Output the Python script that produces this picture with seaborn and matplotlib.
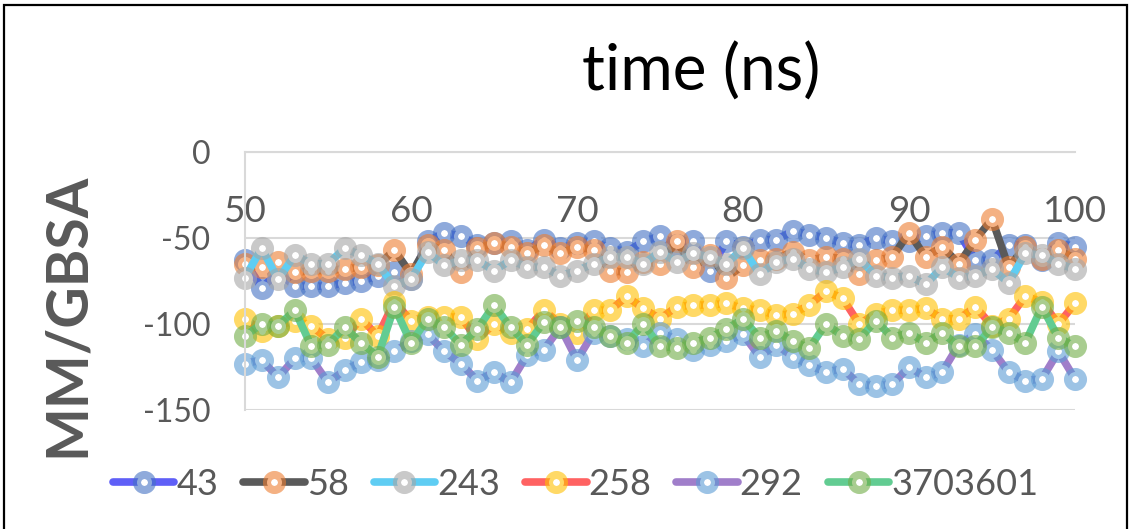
import numpy as np
import pandas as pd
import matplotlib
matplotlib.use("Agg")
import matplotlib.pyplot as plt
from matplotlib.patches import Rectangle
import seaborn as sns

# Simulation time (ns)
time_ns = list(range(50, 101))

# MM/GBSA binding energies per ligand
s43 = [-63, -79, -70, -78, -78, -78, -76, -75, -72, -70,
       -74, -52, -47, -49, -54, -53, -52, -57, -51, -56,
       -53, -52, -56, -58, -52, -49, -54, -52, -69, -52,
       -55, -51, -51, -46, -48, -50, -53, -54, -50, -52,
       -52, -49, -47, -47, -63, -63, -54, -54, -63, -53, -55]
s58 = [-65, -67, -64, -70, -69, -69, -68, -67, -66, -57,
       -71, -54, -57, -70, -56, -53, -55, -59, -54, -59,
       -55, -57, -69, -70, -64, -65, -52, -67, -60, -73,
       -66, -63, -62, -58, -63, -61, -62, -71, -63, -61,
       -47, -61, -55, -65, -51, -39, -67, -55, -62, -57, -62]
s243 = [-73, -56, -74, -60, -65, -65, -56, -60, -65, -78,
        -74, -58, -66, -63, -63, -69, -63, -67, -67, -72,
        -69, -65, -61, -61, -65, -58, -64, -59, -61, -65,
        -56, -71, -64, -62, -68, -70, -67, -62, -72, -73,
        -72, -77, -67, -73, -72, -68, -76, -59, -60, -65, -68]
s258 = [-97, -104, -101, -98, -101, -109, -108, -97, -107, -87,
        -98, -96, -96, -96, -109, -100, -105, -103, -92, -100,
        -105, -92, -92, -84, -91, -97, -90, -89, -89, -88,
        -91, -92, -95, -94, -89, -81, -85, -100, -94, -92,
        -92, -91, -97, -97, -90, -101, -97, -84, -87, -100, -88]
s292 = [-123, -121, -131, -120, -120, -134, -127, -122, -121, -116,
        -110, -106, -116, -123, -133, -128, -134, -118, -115, -102,
        -121, -105, -107, -109, -113, -105, -109, -115, -112, -110,
        -106, -119, -112, -119, -124, -128, -126, -135, -136, -135,
        -125, -131, -128, -112, -106, -115, -128, -133, -132, -116, -132]
s3703601 = [-107, -100, -101, -92, -113, -112, -102, -111, -119, -90,
            -111, -97, -102, -112, -103, -89, -102, -112, -99, -102,
            -98, -102, -107, -111, -100, -113, -114, -111, -108, -103,
            -97, -108, -104, -110, -114, -100, -107, -109, -98, -108,
            -105, -111, -105, -113, -113, -102, -105, -111, -90, -108, -113]

series_names = ["43", "58", "243", "258", "292", "3703601"]
series_values = [s43, s58, s243, s258, s292, s3703601]

x_ticks = [50, 60, 70, 80, 90, 100]
y_ticks = [0, -50, -100, -150]

# line colour / marker ring colour for each ligand
line_colors = ["#5F5FF7", "#5A5A5A", "#5FCDF3", "#FF6262", "#A07ECA", "#62CC92"]
ring_colors = ["#4472C4", "#ED7D31", "#A5A5A5", "#FFC000", "#5B9BD5", "#70AD47"]

sns.set_theme(style="white")
plt.rcParams["font.family"] = ["Lato", "DejaVu Sans"]

fig = plt.figure(figsize=(11.31, 5.29), dpi=100)
ax = fig.add_axes([0.2166, 0.225, 0.7339, 0.4877])

for name, vals, lc, rc in zip(series_names, series_values, line_colors, ring_colors):
    df = pd.DataFrame({"time": time_ns, "energy": vals})
    ring = matplotlib.colors.to_rgba(rc, 0.6)
    sns.lineplot(data=df, x="time", y="energy", ax=ax, color=lc,
                 linewidth=5.5, marker="o", markersize=10.8,
                 markeredgewidth=5.8, markeredgecolor=ring,
                 markerfacecolor="white", label=name, clip_on=False)

ax.set_xlim(50, 100)
ax.set_ylim(-150, 0)
ax.set_xticks(x_ticks)
ax.set_yticks(y_ticks)
ax.set_xticklabels([str(t) for t in x_ticks])
ax.set_yticklabels([str(t) for t in y_ticks])
ax.set_xlabel("")
ax.set_ylabel("")

ax.yaxis.grid(True, color="#D9D9D9", linewidth=1.5)
ax.xaxis.grid(False)
for side in ["top", "right"]:
    ax.spines[side].set_visible(False)
ax.spines["left"].set_color("#D9D9D9")
ax.spines["left"].set_linewidth(1.5)
ax.spines["bottom"].set_position(("data", 0))
ax.spines["bottom"].set_color("#D9D9D9")
ax.spines["bottom"].set_linewidth(1.5)
ax.set_axisbelow(True)

ax.tick_params(axis="x", length=0, pad=31, labelsize=26.5, labelcolor="#595959")
ax.tick_params(axis="y", length=0, pad=25, labelsize=23, labelcolor="#595959")

fig.text(0.62, 0.864, "time (ns)", ha="center", va="center",
         fontsize=46, color="black")
fig.text(0.06, 0.405, "MM/GBSA", rotation=90, ha="center", va="center",
         fontsize=41, fontweight="bold", color="#595959")

handles, labels = ax.get_legend_handles_labels()
ax.get_legend().remove()
fig.legend(handles, labels, loc="center", bbox_to_anchor=(0.509, 0.085),
           ncol=6, frameon=False, fontsize=26, labelcolor="#595959",
           handlelength=1.7, handletextpad=0.05, columnspacing=0.7,
           markerscale=1.0, borderpad=0.2)

fig.patches.append(Rectangle((0.0035, -0.02), 0.993, 1.0105,
                             transform=fig.transFigure, fill=False,
                             edgecolor="black", linewidth=1.6))

fig.savefig("out.png", dpi=100)
